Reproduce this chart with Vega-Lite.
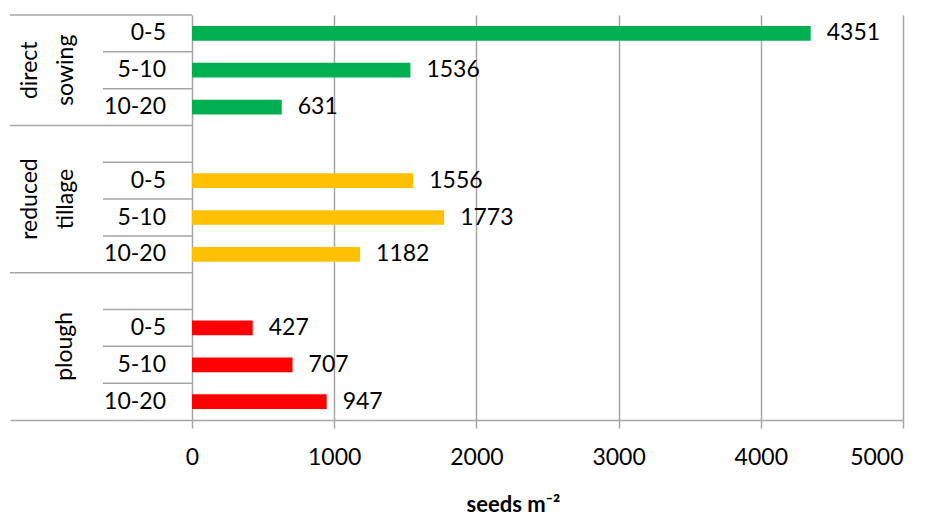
{
  "$schema": "https://vega.github.io/schema/vega-lite/v6.json",
  "autosize": {"type": "none"},
  "padding": {"left": 10, "top": 15, "right": 27, "bottom": 100},
  "width": 893,
  "height": 405,
  "background": "white",
  "config": {"view": {"stroke": null}, "font": "Lato"},
  "data": {"values": [
    {"key": "DS 0-5", "group": "direct sowing", "depth": "0-5", "value": 4351},
    {"key": "DS 5-10", "group": "direct sowing", "depth": "5-10", "value": 1536},
    {"key": "DS 10-20", "group": "direct sowing", "depth": "10-20", "value": 631},
    {"key": "RT gap", "group": "reduced tillage", "depth": "", "value": null},
    {"key": "RT 0-5", "group": "reduced tillage", "depth": "0-5", "value": 1556},
    {"key": "RT 5-10", "group": "reduced tillage", "depth": "5-10", "value": 1773},
    {"key": "RT 10-20", "group": "reduced tillage", "depth": "10-20", "value": 1182},
    {"key": "PL gap", "group": "plough", "depth": "", "value": null},
    {"key": "PL 0-5", "group": "plough", "depth": "0-5", "value": 427},
    {"key": "PL 5-10", "group": "plough", "depth": "5-10", "value": 707},
    {"key": "PL 10-20", "group": "plough", "depth": "10-20", "value": 947}
  ]},
  "encoding": {
    "y": {
      "field": "key", "type": "nominal",
      "scale": {
        "domain": ["DS 0-5", "DS 5-10", "DS 10-20", "RT gap", "RT 0-5", "RT 5-10", "RT 10-20", "PL gap", "PL 0-5", "PL 5-10", "PL 10-20"],
        "paddingInner": 0, "paddingOuter": 0
      },
      "axis": null
    }
  },
  "layer": [
    {
      "mark": {"type": "bar", "height": {"band": 0.4}},
      "encoding": {
        "x": {
          "field": "value", "type": "quantitative",
          "scale": {"domain": [-1280, 5000], "nice": false, "zero": false},
          "axis": {
            "values": [0, 1000, 2000, 3000, 4000, 5000],
            "format": "d",
            "grid": true, "gridColor": "#A6A6A6", "gridWidth": 1.5,
            "domainColor": "#A6A6A6", "domainWidth": 1.5,
            "tickColor": "#A6A6A6", "tickWidth": 1.5, "tickSize": 8,
            "labelFont": "Lato", "labelFontSize": 23, "labelColor": "#000000", "labelPadding": 18,
            "title": "seeds m⁻²", "titleFont": "Lato", "titleFontSize": 22, "titleFontWeight": "bold",
            "titleColor": "#000000", "titleX": 503, "titlePadding": 25
          }
        },
        "color": {
          "field": "group", "type": "nominal",
          "scale": {"domain": ["direct sowing", "reduced tillage", "plough"], "range": ["#00B050", "#FFC000", "#FF0000"]},
          "legend": null
        }
      }
    },
    {
      "mark": {"type": "text", "align": "left", "baseline": "middle", "dx": 16, "fontSize": 23, "color": "#000000"},
      "encoding": {
        "x": {"field": "value", "type": "quantitative"},
        "text": {"field": "value", "type": "quantitative", "format": "d"}
      }
    },
    {
      "transform": [{"filter": "datum.depth != ''"}],
      "mark": {"type": "text", "align": "right", "baseline": "middle", "fontSize": 23, "color": "#000000"},
      "encoding": {
        "x": {"datum": -183},
        "text": {"field": "depth"}
      }
    },
    {
      "transform": [{"filter": "datum.key == 'DS 0-5' || datum.depth == ''"}],
      "mark": {"type": "rule", "color": "#A6A6A6", "strokeWidth": 1.5},
      "encoding": {
        "x": {"datum": -1280},
        "x2": {"datum": 0},
        "y": {"field": "key", "type": "nominal", "bandPosition": 0}
      }
    },
    {
      "transform": [{"filter": "datum.key != 'DS 0-5' && datum.depth != ''"}],
      "mark": {"type": "rule", "color": "#A6A6A6", "strokeWidth": 1.5},
      "encoding": {
        "x": {"datum": -626},
        "x2": {"datum": 0},
        "y": {"field": "key", "type": "nominal", "bandPosition": 0}
      }
    },
    {
      "transform": [{"filter": "datum.key == 'DS 5-10'"}],
      "mark": {"type": "text", "angle": 270, "align": "center", "baseline": "middle", "fontSize": 23, "lineBreak": " ", "lineHeight": 36, "color": "#000000"},
      "encoding": {
        "x": {"datum": -1139},
        "text": {"field": "group"}
      }
    },
    {
      "transform": [{"filter": "datum.key == 'RT 5-10'"}],
      "mark": {"type": "text", "angle": 270, "align": "center", "baseline": "middle", "fontSize": 23, "lineBreak": " ", "lineHeight": 36, "color": "#000000"},
      "encoding": {
        "x": {"datum": -1139},
        "y": {"field": "key", "type": "nominal", "bandPosition": 0},
        "text": {"field": "group"}
      }
    },
    {
      "transform": [{"filter": "datum.key == 'PL 5-10'"}],
      "mark": {"type": "text", "angle": 270, "align": "center", "baseline": "middle", "fontSize": 23, "color": "#000000"},
      "encoding": {
        "x": {"datum": -893},
        "y": {"field": "key", "type": "nominal", "bandPosition": 0},
        "text": {"field": "group"}
      }
    }
  ]
}
